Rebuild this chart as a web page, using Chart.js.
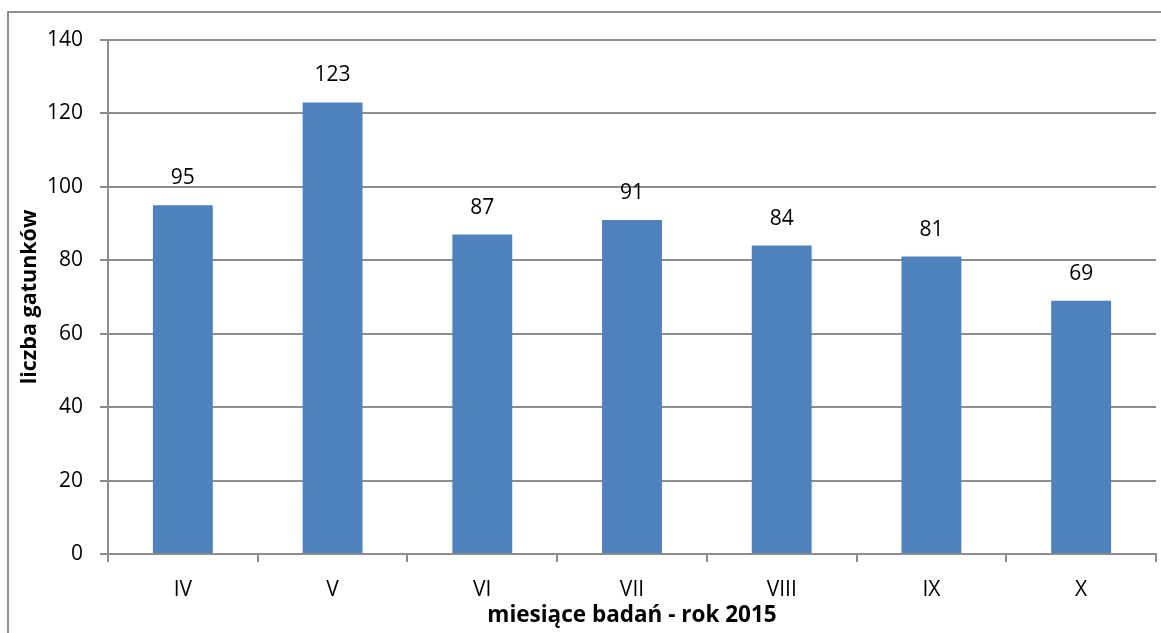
<!DOCTYPE html>
<html>
<head>
    <meta charset="utf-8">
    <title>Liczba gatunków</title>
    <script src="https://cdn.jsdelivr.net/npm/chart.js"></script>
    <style>
        body {
            margin: 0;
            background: #fff;
        }
        #wrap {
            position: relative;
            width: 1161px;
            height: 633px;
            overflow: hidden;
        }
        #frame {
            position: absolute;
            left: 7px;
            top: 11px;
            width: 1300px;
            height: 800px;
            border: 2px solid #8e8e8e;
        }
        #chart {
            position: absolute;
            left: 0;
            top: 0;
        }
    </style>
</head>
<body>
    <div id="wrap">
        <div id="frame"></div>
        <canvas id="chart" width="1161" height="633"></canvas>
    </div>

    <script>
        const months = ['IV', 'V', 'VI', 'VII', 'VIII', 'IX', 'X'];
        const speciesCount = [95, 123, 87, 91, 84, 81, 69];
        const yTicks = [0, 20, 40, 60, 80, 100, 120, 140];

        const gridColor = '#8c8c8c';
        const fontFamily = '"Open Sans", "Liberation Sans", sans-serif';

        // values written above each bar
        const valueLabels = {
            id: 'valueLabels',
            afterDatasetsDraw(chart) {
                const ctx = chart.ctx;
                const meta = chart.getDatasetMeta(0);
                ctx.save();
                ctx.font = '21px ' + fontFamily;
                ctx.fillStyle = '#000';
                ctx.textAlign = 'center';
                ctx.textBaseline = 'middle';
                meta.data.forEach((bar, i) => {
                    ctx.fillText(String(speciesCount[i]), bar.x, bar.y - 27);
                });
                ctx.restore();
            }
        };

        const ctx = document.getElementById('chart').getContext('2d');
        new Chart(ctx, {
            type: 'bar',
            data: {
                labels: months,
                datasets: [{
                    data: speciesCount,
                    backgroundColor: '#4f81bd',
                    borderWidth: 0,
                    categoryPercentage: 1,
                    barPercentage: 0.4
                }]
            },
            options: {
                responsive: false,
                animation: false,
                layout: {
                    padding: { left: 14, top: 40, right: 5, bottom: 0 }
                },
                plugins: {
                    legend: { display: false },
                    tooltip: { enabled: false }
                },
                scales: {
                    x: {
                        grid: {
                            display: true,
                            drawOnChartArea: false,
                            drawTicks: true,
                            tickLength: 8,
                            color: gridColor,
                            lineWidth: 2
                        },
                        border: { color: gridColor, width: 2 },
                        ticks: {
                            color: '#000',
                            padding: 15,
                            font: { family: fontFamily, size: 21 }
                        },
                        title: {
                            display: true,
                            text: 'miesiące badań - rok 2015',
                            color: '#000',
                            padding: { top: 0, bottom: 4 },
                            font: { family: fontFamily, size: 22.5, weight: 'bold' }
                        },
                        afterFit(scale) {
                            scale.height = 633 - 554;
                        }
                    },
                    y: {
                        min: 0,
                        max: 140,
                        afterBuildTicks(scale) {
                            scale.ticks = yTicks.map(v => ({ value: v }));
                        },
                        grid: {
                            color: gridColor,
                            lineWidth: 2,
                            tickLength: 8
                        },
                        border: { color: gridColor, width: 2 },
                        ticks: {
                            color: '#000',
                            padding: 17,
                            font: { family: fontFamily, size: 21 }
                        },
                        title: {
                            display: true,
                            text: 'liczba gatunków',
                            color: '#000',
                            padding: { top: 3, bottom: 0 },
                            font: { family: fontFamily, size: 21.5, weight: 'bold' }
                        },
                        afterFit(scale) {
                            scale.width = 108 - 14;
                        }
                    }
                }
            },
            plugins: [valueLabels]
        });
    </script>
</body>
</html>
